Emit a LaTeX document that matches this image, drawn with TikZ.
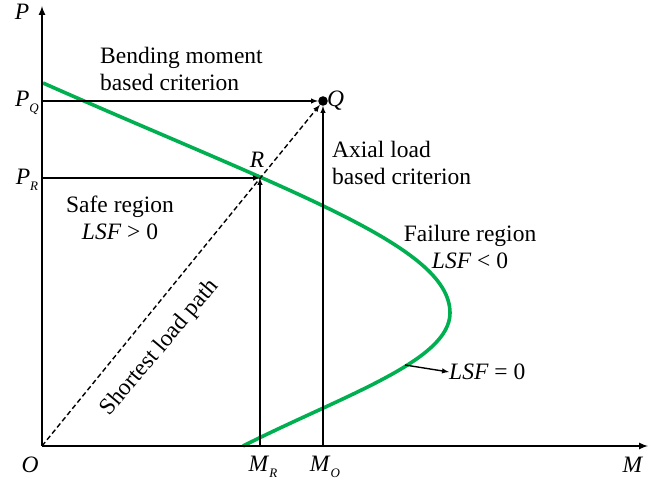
\documentclass[tikz,border=0pt]{standalone}
\usepackage{fontspec}
\setmainfont{Liberation Serif}
\usepackage{tikz}
\usetikzlibrary{positioning,arrows,calc}

\definecolor{lsfgreen}{RGB}{0,176,80}
\newcommand{\symsub}[2]{\textit{#1}\raisebox{-.55ex}{\fontsize{13}{13}\selectfont\textit{#2}}}

\begin{document}
\begin{tikzpicture}[x=1pt,y=1pt,
    axis/.style={line width=2pt, -latex},
    guide/.style={line width=1.4pt, -latex},
    lsf/.style={line width=3.6pt, lsfgreen},
    lbl/.style={inner sep=1pt, font=\fontsize{23.5}{27}\selectfont},
    txt/.style={inner sep=0pt, font=\fontsize{23.5}{27}\selectfont}]
        \useasboundingbox (-42,-35) rectangle (617,446);

        % Points
        \coordinate (O) at (0,0);
        \coordinate (xend) at (606,0);
        \coordinate (yend) at (0,440);
        \coordinate (Q) at (281,345);
        \coordinate (R) at (218,268);
        \coordinate (yQ) at (0,345);
        \coordinate (yR) at (0,268);
        \coordinate (xR) at (218,0);
        \coordinate (xO) at (281,0);

        % Limit state curve
        \draw[lsf] (1,363) .. controls (250,253) and (408,200) .. (408,133)
            .. controls (408,85) and (300,50) .. (201,0);
        \coordinate (onlsf) at (363,81);

        % Axes
        \draw[axis] (O) -- (xend);
        \draw[axis] (O) -- (yend);

        % Load paths
        \draw[guide, shorten >=5pt] (yQ) -- (Q);
        \draw[guide, shorten >=5pt] (xO) -- (Q);
        \draw[guide] (yR) -- (R);
        \draw[guide] (xR) -- (R);
        \draw[guide, dash pattern=on 5pt off 3pt, shorten >=5pt] (O) -- (Q);
        \fill (Q) circle (4.8);

        % Axis labels
        \node[lbl] (lP) at (-20,434) {\textit{P}};
        \node[lbl] (lM) at (591,-19) {\textit{M}};
        \node[lbl] (lO) at (-12,-19) {\textit{O}};
        \node[lbl] (lPQ) at (-15,343) {\symsub{P}{Q}};
        \node[lbl] (lPR) at (-15,266) {\symsub{P}{R}};
        \node[lbl] (lMR) at (221,-21) {\symsub{M}{R}};
        \node[lbl] (lMO) at (283,-21) {\symsub{M}{O}};
        \node[lbl, right=3pt of Q] (lQ) {\textit{Q}};
        \node[lbl] (lR) at (215,286) {\textit{R}};

        % Texts
        \node[txt, anchor=west, align=left] (bending) at (58,377) {Bending moment\\based criterion};
        \node[txt, anchor=west, align=left] (axial) at (290,283) {Axial load\\based criterion};
        \node[txt, align=center] (safe) at (78,228) {Safe region\\\textit{LSF} > 0};
        \node[txt, align=center] (failure) at (428,199) {Failure region\\\textit{LSF} < 0};
        \node[txt, rotate=50] (path) at (118,98) {Shortest load path};
        \node[txt, anchor=west] (lsfzero) at (407,74) {\textit{LSF} = 0};
        \draw[guide] (onlsf) -- (lsfzero.west);
    \end{tikzpicture}
\end{document}
